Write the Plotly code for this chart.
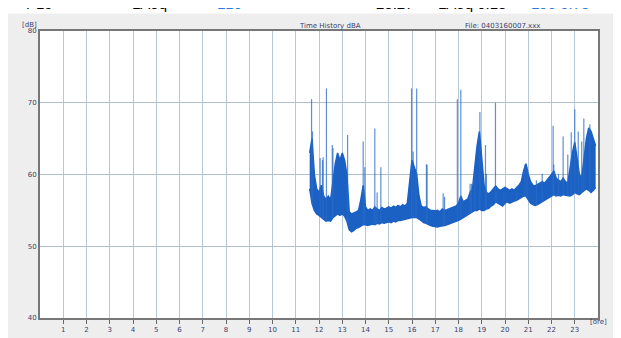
import plotly.graph_objects as go
import numpy as np

# ---------------- data ----------------
hour_ticks = list(range(1, 24))
db_ticks = [40, 50, 60, 70, 80]

# dense time history, read as a band every 0.1 h: lower / upper level [dB]
band_t = [round(11.6 + 0.1 * i, 1) for i in range(124)]
band_lo = [58.0, 56.0, 55.0, 54.5, 54.3, 54.0, 53.8, 53.5, 53.6, 53.5,
           54.0, 54.2, 54.5, 54.3, 54.5, 54.2, 53.5, 52.3, 52.0, 52.2,
           52.5, 52.6, 52.8, 53.0, 53.0, 52.9, 53.0, 53.1, 53.0, 53.2,
           53.1, 53.3, 53.2, 53.3, 53.4, 53.3, 53.5, 53.4, 53.6, 53.6,
           53.7, 53.8, 53.9, 54.0, 54.0, 54.0, 54.0, 53.8, 53.5, 53.3,
           53.2, 53.0, 52.9, 52.8, 52.7, 52.7, 52.8, 52.8, 52.9, 53.0,
           53.1, 53.2, 53.3, 53.5, 53.6, 53.8, 54.0, 54.2, 54.4, 54.6,
           54.8, 55.0, 55.0, 55.2, 55.0, 55.0, 55.2, 55.3, 55.6, 55.8,
           56.2, 56.0, 55.7, 55.6, 56.0, 56.2, 56.0, 56.2, 56.3, 56.4,
           56.6, 56.8, 57.0, 57.0, 56.5, 56.0, 55.8, 55.7, 55.8, 56.0,
           56.2, 56.3, 56.5, 56.8, 57.0, 57.2, 57.0, 57.1, 57.0, 57.2,
           57.1, 57.0, 57.0, 57.2, 57.5, 57.3, 57.2, 57.5, 57.8, 58.0,
           57.8, 57.5, 57.8, 58.2]
band_hi = [63.0, 65.0, 60.0, 58.0, 57.5, 58.5, 57.0, 56.5, 57.0, 56.5,
           59.0, 61.5, 63.0, 62.0, 63.0, 62.0, 60.0, 54.8, 54.5, 54.6,
           54.8, 55.0, 56.5, 58.5, 55.5, 55.0, 55.2, 55.0, 55.5, 55.2,
           55.0, 55.4, 55.2, 55.3, 55.5, 55.3, 55.6, 55.4, 55.7, 55.5,
           55.8, 55.6, 56.0, 59.0, 62.0, 61.0, 60.0, 57.0, 55.6, 55.4,
           55.5, 55.2, 55.0, 55.0, 54.9, 55.0, 54.8, 55.2, 55.0, 55.1,
           55.2, 55.4, 55.5, 55.6, 56.0, 57.0, 56.2, 56.4, 56.6, 57.5,
           58.0, 61.0, 64.0, 66.0, 62.0, 58.5, 57.5, 57.3, 57.6, 58.0,
           58.4, 58.0, 57.8, 58.0, 58.2, 58.0, 57.8, 58.0, 57.8, 58.2,
           58.5, 59.0, 60.5, 61.5, 60.0, 59.0, 58.5, 58.4, 58.6, 58.8,
           59.0, 58.8, 59.2, 59.5, 60.0, 60.5, 59.5, 59.2, 59.0, 59.5,
           59.0, 58.8, 61.0, 63.0, 64.5, 62.0, 60.0, 59.5, 62.0, 65.0,
           66.5, 66.0, 65.0, 64.0]

# isolated peaks: time [h], peak level [dB]
spike_t = [11.68, 11.72, 12.05, 12.15, 12.18, 12.32, 12.57, 12.6, 13.23, 13.9,
           13.97, 14.4, 14.5, 14.66, 15.98, 16.05, 16.15, 16.2, 16.62, 16.65,
           17.34, 17.4, 17.95, 18.1, 18.5, 18.56, 18.7, 18.92, 19.16, 19.2,
           19.59, 19.65, 19.95, 20.5, 20.86, 20.95, 21.35, 21.6, 22.07, 22.1,
           22.3, 22.5, 22.7, 22.85, 23.0, 23.15, 23.3, 23.39, 23.65]
spike_db = [70.5, 66.0, 62.3, 62.0, 62.4, 72.0, 64.1, 63.7, 65.5, 64.6,
            61.0, 66.4, 57.5, 61.0, 72.0, 63.2, 60.1, 72.0, 61.4, 61.4,
            57.4, 56.9, 70.5, 71.8, 58.7, 58.7, 60.1, 68.7, 64.1, 60.1,
            70.0, 57.8, 57.4, 57.8, 61.4, 61.0, 59.2, 60.1, 66.8, 61.4,
            60.1, 65.3, 62.8, 65.9, 69.1, 66.0, 64.6, 67.8, 67.0]

# ---------------- figure ----------------
blue = "#1b61c4"
navy = "#3a3f6e"

fig = go.Figure()

fig.add_trace(go.Scatter(x=band_t, y=band_lo, mode="lines",
                         line=dict(color=blue, width=1.5), hoverinfo="skip",
                         showlegend=False))
fig.add_trace(go.Scatter(x=band_t, y=band_hi, mode="lines", fill="tonexty",
                         fillcolor=blue, line=dict(color=blue, width=1.5),
                         hoverinfo="skip", showlegend=False))

spike_base = np.interp(spike_t, band_t, band_lo)
sx, sy = [], []
for t, b, p in zip(spike_t, spike_base, spike_db):
    sx += [t, t, None]
    sy += [float(b), p, None]
fig.add_trace(go.Scatter(x=sx, y=sy, mode="lines",
                         line=dict(color="rgba(40,105,200,0.75)", width=1.2),
                         hoverinfo="skip", showlegend=False))

font = dict(family="DejaVu Sans", size=7, color=navy)

fig.update_layout(
    width=621, height=338,
    margin=dict(l=32, r=31, t=23, b=20),
    paper_bgcolor="#eeeeee",
    plot_bgcolor="#ffffff",
    font=font,
    xaxis=dict(range=[0, 24], tickvals=hour_ticks,
               ticktext=[str(h) for h in hour_ticks],
               showgrid=True, gridcolor="#b4c8d8", gridwidth=1,
               zeroline=False, ticks="outside", ticklen=4, tickcolor="#666",
               showline=True, linecolor="#777777", linewidth=2, mirror=True,
               tickfont=font, fixedrange=True),
    yaxis=dict(range=[40, 80], tickvals=db_ticks,
               ticktext=[str(v) for v in db_ticks],
               showgrid=True, gridcolor="#aebfce", gridwidth=1,
               zeroline=False, ticks="", showline=True,
               linecolor="#777777", linewidth=2, mirror=True,
               tickfont=font, fixedrange=True),
)

# white strip at the very top (cut-off header row)
fig.add_shape(type="rect", xref="paper", yref="paper", x0=-0.06, x1=1.06,
              y0=(318 - 5) / 295, y1=(318 + 2) / 295,
              fillcolor="white", line=dict(width=0), layer="above")

ann = []
ann.append(dict(text="Time History dBA", x=(322 - 32) / 558, y=(318 - 12) / 295,
                xref="paper", yref="paper", showarrow=False, font=font))
ann.append(dict(text="File: 0403160007.xxx", x=(535 - 32) / 558, y=(318 - 12) / 295,
                xref="paper", yref="paper", showarrow=False, font=font))
ann.append(dict(text="[dB]", x=(12 - 32) / 558, y=(318 - 11) / 295,
                xref="paper", yref="paper", showarrow=False, font=font))
ann.append(dict(text="[ore]", x=(601 - 32) / 558, y=(318 - 328) / 295,
                xref="paper", yref="paper", showarrow=False, font=font))

# bottoms of a header row that lies above the picture
header = [("P15", 16, "#000000"), ("LAeq", 122, "#000000"),
          ("L10", 207, "#2a7be0"), ("23:27", 387, "#000000"),
          ("LAeq 0.18", 500, "#000000"), ("L90 0.78", 583, "#2a7be0")]
for txt, px, col in header:
    ann.append(dict(text=txt, x=(px - 32) / 558, y=(318 - 6) / 295,
                    xref="paper", yref="paper", showarrow=False,
                    yanchor="bottom",
                    font=dict(family="Liberation Sans", size=15, color=col)))

fig.update_layout(annotations=ann)

fig.write_html("out.html")
